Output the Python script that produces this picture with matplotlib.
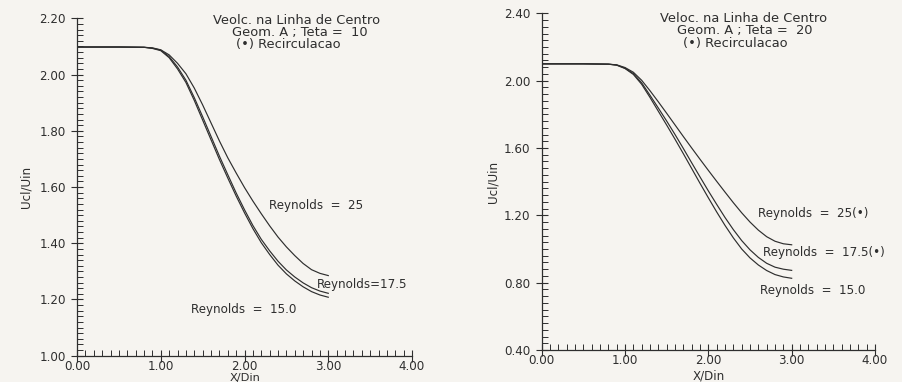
import matplotlib
matplotlib.use("Agg")
import matplotlib.pyplot as plt
from matplotlib.ticker import MultipleLocator, FormatStrFormatter

# ---- data ----
x_vals = [0.0, 0.5, 0.8, 0.9, 1.0, 1.1, 1.2, 1.3, 1.4, 1.5, 1.6, 1.7, 1.8, 1.9,
          2.0, 2.1, 2.2, 2.3, 2.4, 2.5, 2.6, 2.7, 2.8, 2.9, 3.0]

# Teta = 10
t10_re15 = [2.098, 2.098, 2.097, 2.093, 2.085, 2.060, 2.020, 1.972, 1.908, 1.838,
            1.768, 1.698, 1.632, 1.568, 1.508, 1.452, 1.402, 1.360, 1.322, 1.291,
            1.266, 1.245, 1.228, 1.216, 1.208]
t10_re175 = [2.098, 2.098, 2.097, 2.094, 2.087, 2.064, 2.027, 1.980, 1.918, 1.850,
             1.780, 1.710, 1.644, 1.579, 1.519, 1.463, 1.414, 1.373, 1.336, 1.305,
             1.280, 1.259, 1.242, 1.230, 1.222]
t10_re25 = [2.098, 2.098, 2.097, 2.095, 2.088, 2.070, 2.040, 2.003, 1.952, 1.892,
            1.828, 1.764, 1.704, 1.650, 1.598, 1.550, 1.505, 1.462, 1.422, 1.387,
            1.356, 1.328, 1.306, 1.293, 1.285]

# Teta = 20
t20_re15 = [2.100, 2.100, 2.098, 2.092, 2.072, 2.037, 1.978, 1.900, 1.818, 1.736,
            1.652, 1.566, 1.478, 1.390, 1.304, 1.220, 1.140, 1.066, 1.000, 0.947,
            0.905, 0.872, 0.848, 0.834, 0.826]
t20_re175 = [2.100, 2.100, 2.098, 2.093, 2.074, 2.042, 1.987, 1.913, 1.837, 1.760,
             1.680, 1.597, 1.512, 1.428, 1.345, 1.265, 1.187, 1.115, 1.050, 0.995,
             0.950, 0.915, 0.892, 0.880, 0.873]
t20_re25 = [2.100, 2.100, 2.098, 2.094, 2.078, 2.050, 2.002, 1.940, 1.874, 1.806,
            1.737, 1.668, 1.600, 1.533, 1.467, 1.402, 1.338, 1.275, 1.215, 1.160,
            1.112, 1.073, 1.046, 1.031, 1.025]

bg = '#f6f4f0'
ink = '#2e2e2e'
fs = 8.6
fs_title = 9.4

fig = plt.figure(figsize=(9.03, 3.82), dpi=100, facecolor=bg)
ax1 = fig.add_axes([0.0853, 0.0688, 0.3710, 0.8832])
ax2 = fig.add_axes([0.5999, 0.0838, 0.3691, 0.8813])


def style(ax, ymin, ymax, ymaj, ymin_step):
    ax.set_facecolor(bg)
    ax.set_xlim(0, 4)
    ax.set_ylim(ymin, ymax)
    for s in ['top', 'right']:
        ax.spines[s].set_visible(False)
    for s in ['left', 'bottom']:
        ax.spines[s].set_color(ink)
        ax.spines[s].set_linewidth(0.9)
    ax.xaxis.set_major_locator(MultipleLocator(1.0))
    ax.xaxis.set_minor_locator(MultipleLocator(0.1))
    ax.yaxis.set_major_locator(MultipleLocator(ymaj))
    ax.yaxis.set_minor_locator(MultipleLocator(ymin_step))
    ax.xaxis.set_major_formatter(FormatStrFormatter('%.2f'))
    ax.yaxis.set_major_formatter(FormatStrFormatter('%.2f'))
    ax.tick_params(which='major', direction='inout', length=8, width=0.8,
                   color=ink, labelcolor=ink, labelsize=fs)
    ax.tick_params(which='minor', direction='in', length=4, width=0.7, color=ink)
    ax.tick_params(axis='y', which='major', pad=4)
    ax.tick_params(axis='x', which='major', pad=-1)


style(ax1, 1.0, 2.2, 0.2, 0.02)
style(ax2, 0.4, 2.4, 0.4, 0.04)

lw = 0.85
for ys in (t10_re15, t10_re175, t10_re25):
    ax1.plot(x_vals, ys, color=ink, lw=lw)
for ys in (t20_re15, t20_re175, t20_re25):
    ax2.plot(x_vals, ys, color=ink, lw=lw)

# title blocks (one text per line, positions in figure pixels)
W, H = 903.0, 382.0
left_title = [('Veolc. na Linha de Centro', 297, 20),
              ('Geom. A ; Teta =  10', 300, 32.7),
              ('(\u2022) Recirculacao', 288, 44.5)]
right_title = [('Veloc. na Linha de Centro', 744, 18.3),
               ('Geom. A ; Teta =  20', 745, 30.7),
               ('(\u2022) Recirculacao', 735, 43.3)]
for txt, px, py in left_title + right_title:
    fig.text(px / W, 1 - py / H, txt, ha='center', va='center',
             fontsize=fs_title, color=ink)

# curve labels
ax1.text(2.29, 1.533, 'Reynolds  =  25', fontsize=fs, color=ink, va='center')
ax1.text(2.86, 1.255, 'Reynolds=17.5', fontsize=fs, color=ink, va='center')
ax1.text(1.36, 1.164, 'Reynolds  =  15.0', fontsize=fs, color=ink, va='center')

ax2.text(2.60, 1.212, 'Reynolds  =  25(\u2022)', fontsize=fs, color=ink, va='center')
ax2.text(2.66, 0.980, 'Reynolds  =  17.5(\u2022)', fontsize=fs, color=ink, va='center')
ax2.text(2.62, 0.752, 'Reynolds  =  15.0', fontsize=fs, color=ink, va='center')

# axis labels
ax1.set_ylabel('Ucl/Uin', fontsize=fs, color=ink, labelpad=5)
ax2.set_ylabel('Ucl/Uin', fontsize=fs, color=ink, labelpad=3)
fig.text(245 / W, 1 - 377.5 / H, 'X/Din', ha='center', va='center', fontsize=8.2, color=ink)
fig.text(709 / W, 1 - 376 / H, 'X/Din', ha='center', va='center', fontsize=fs, color=ink)

fig.savefig('out.png', dpi=100, facecolor=bg)
